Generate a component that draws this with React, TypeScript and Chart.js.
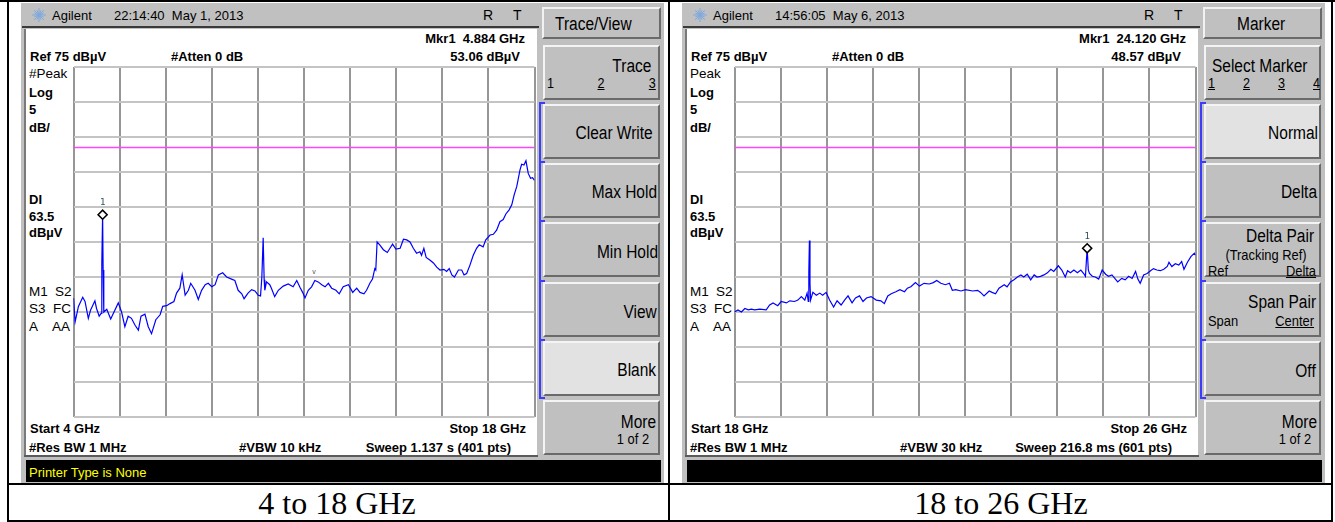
import React, { useEffect, useRef } from "react";
import { Chart, registerables } from "chart.js";
Chart.register(...registerables);

// ---------------- data ----------------
const refLevelDbuV = 75;
const dbPerDiv = 5;
const gridDivisions = 10;
const displayLineDbuV = 63.5;

const leftSpanGHz = [4, 18];
const leftFreqGHz = [
  4.0, 4.05, 4.15, 4.28, 4.35, 4.45, 4.52, 4.65, 4.7, 4.78, 4.84, 4.86, 4.884, 4.9, 4.92,
  5.01, 5.13, 5.36, 5.46, 5.56, 5.66, 5.76, 5.87, 5.97, 6.05, 6.17, 6.27, 6.37, 6.5, 6.63,
  6.71, 6.83, 6.93, 7.05, 7.13, 7.23, 7.3, 7.39, 7.49, 7.56, 7.69, 7.79, 7.89, 8.0, 8.09,
  8.2, 8.3, 8.4, 8.53, 8.65, 8.8, 8.9, 9.0, 9.11, 9.18, 9.3, 9.41, 9.51, 9.61, 9.68, 9.72,
  9.76, 9.79, 9.81, 9.86, 9.96, 10.01, 10.11, 10.22, 10.37, 10.52, 10.67, 10.78, 10.88,
  10.97, 11.03, 11.13, 11.23, 11.33, 11.43, 11.54, 11.64, 11.74, 11.84, 11.97, 12.07, 12.19,
  12.35, 12.48, 12.6, 12.7, 12.82, 12.9, 13.0, 13.08, 13.15, 13.18, 13.22, 13.3, 13.41, 13.53,
  13.61, 13.69, 13.79, 13.92, 14.02, 14.12, 14.22, 14.32, 14.42, 14.52, 14.57, 14.64, 14.71,
  14.83, 14.93, 15.03, 15.13, 15.25, 15.33, 15.41, 15.49, 15.57, 15.69, 15.79, 15.86, 15.94,
  16.04, 16.14, 16.24, 16.32, 16.44, 16.52, 16.65, 16.75, 16.85, 16.95, 17.05, 17.13, 17.23,
  17.31, 17.38, 17.46, 17.56, 17.61, 17.68, 17.74, 17.81, 17.88, 17.94, 18.0,
];
const leftLevelDbuV = [
  42.0, 38.6, 40.8, 42.1, 41.5, 39.1, 40.3, 41.6, 40.5, 39.4, 39.8, 47.0, 53.9, 46.0, 40.0,
  40.4, 39.0, 41.3, 40.0, 37.9, 39.4, 39.1, 38.1, 37.4, 39.4, 39.7, 37.9, 36.9, 38.9, 39.6,
  40.8, 40.9, 41.2, 41.5, 42.7, 43.4, 45.3, 42.4, 43.1, 44.1, 43.1, 41.8, 43.1, 43.9, 44.1,
  43.6, 43.9, 45.3, 45.6, 45.0, 44.7, 44.5, 43.1, 42.6, 41.9, 42.7, 43.2, 43.0, 42.4, 42.3, 45.0,
  50.6, 44.6, 43.1, 44.3, 43.9, 43.4, 42.2, 43.1, 43.7, 44.0, 43.6, 44.5, 43.5,
  42.7, 42.0, 43.1, 43.6, 44.5, 44.3, 43.9, 43.6, 44.1, 43.4, 43.1, 42.6, 43.6,
  43.9, 42.8, 43.4, 42.8, 42.6, 43.1, 44.1, 44.7, 46.2, 46.0, 50.0, 49.6, 48.9, 48.5,
  49.1, 49.7, 49.0, 49.1, 50.4, 50.3, 50.0, 49.1, 48.4, 48.6, 48.1, 49.1, 47.8,
  47.4, 47.0, 46.4, 46.0, 46.1, 45.8, 46.2, 45.3, 45.0, 46.0, 46.0, 45.3, 45.5,
  46.7, 48.1, 49.1, 49.6, 49.3, 50.3, 51.0, 51.1, 51.7, 52.9, 53.2, 54.0, 54.6,
  55.3, 56.7, 57.9, 60.3, 61.1, 61.0, 61.6, 59.8, 59.1, 59.2, 58.8,
];
const leftMarkerFreqGHz = [4.884];
const leftMarkerLevelDbuV = [53.9];

const rightSpanGHz = [18, 26];
const rightFreqGHz = [
  18.0, 18.06, 18.12, 18.18, 18.24, 18.29, 18.35, 18.44, 18.55, 18.61, 18.67, 18.75, 18.81,
  18.9, 18.96, 19.04, 19.1, 19.16, 19.22, 19.26, 19.28, 19.29, 19.3, 19.31, 19.32, 19.36,
  19.42, 19.48, 19.53, 19.59, 19.65, 19.72, 19.78, 19.85, 19.91, 19.97, 20.04, 20.1, 20.17,
  20.23, 20.29, 20.37, 20.46, 20.54, 20.6, 20.66, 20.72, 20.8, 20.87, 20.95, 21.0, 21.06,
  21.14, 21.21, 21.29, 21.38, 21.45, 21.51, 21.58, 21.66, 21.73, 21.78, 21.84, 21.93, 22.01,
  22.13, 22.22, 22.27, 22.33, 22.42, 22.47, 22.53, 22.59, 22.68, 22.73, 22.79, 22.85, 22.91,
  22.97, 23.02, 23.08, 23.14, 23.2, 23.25, 23.31, 23.37, 23.43, 23.49, 23.54, 23.62, 23.68,
  23.74, 23.78, 23.83, 23.89, 23.95, 24.01, 24.06, 24.09, 24.12, 24.14, 24.16, 24.21, 24.26,
  24.32, 24.38, 24.44, 24.49, 24.55, 24.61, 24.65, 24.72, 24.78, 24.84, 24.9, 24.96, 25.0,
  25.04, 25.1, 25.16, 25.22, 25.27, 25.33, 25.39, 25.45, 25.51, 25.54, 25.59, 25.65, 25.71,
  25.76, 25.8, 25.86, 25.92, 25.98, 26.0,
];
const rightLevelDbuV = [
  40.0, 40.3, 40.0, 40.5, 40.3, 40.4, 40.3, 40.4, 40.3, 41.0, 41.3, 40.9, 41.5,
  41.3, 41.6, 41.5, 41.7, 42.2, 41.7, 42.7, 41.5, 45.8, 50.2, 44.1, 41.7, 42.8,
  42.4, 42.7, 42.4, 42.8, 41.7, 40.7, 41.6, 41.0, 41.7, 42.3, 41.3, 42.0, 42.3,
  41.5, 42.0, 42.2, 41.7, 41.6, 41.2, 42.3, 42.6, 42.9, 43.2, 42.9, 43.4, 43.6,
  44.2, 43.7, 44.1, 44.0, 44.2, 44.5, 44.1, 43.9, 44.1, 43.1, 43.2, 43.0, 43.2,
  43.0, 43.1, 42.8, 42.3, 43.0, 42.8, 42.6, 43.4, 43.9, 43.6, 44.3, 44.6, 45.0,
  45.3, 45.0, 45.4, 44.6, 45.3, 45.0, 45.1, 45.3, 45.6, 46.1, 45.8, 46.6, 46.0,
  45.0, 45.9, 45.6, 46.0, 45.6, 46.0, 45.5, 45.1, 49.1, 46.0, 45.5, 45.1, 45.0,
  44.7, 46.0, 45.4, 45.1, 45.3, 44.7, 44.3, 44.8, 44.6, 45.1, 44.8, 45.8, 44.7,
  44.1, 45.3, 45.5, 45.9, 46.2, 46.0, 45.9, 46.1, 46.5, 47.1, 46.5, 46.9, 46.7,
  47.2, 46.1, 47.1, 47.9, 48.4, 48.1,
];
const rightMarkerFreqGHz = [24.12];
const rightMarkerLevelDbuV = [49.1];

// ---------------- layout helpers ----------------
const W = 1335;
const H = 522;
const FONT = '"Liberation Sans", Arial, sans-serif';
const SERIF = '"Liberation Serif", "Times New Roman", serif';
const GREY = "#c0c0c0";
const KEY_TOPS = [45, 104, 163, 222, 282, 341, 400];

type Lbl = {
  t: string;
  x: number;
  y: number;
  s?: number;
  b?: boolean;
  a?: "left" | "right" | "center";
  u?: boolean;
  sx?: number;
  c?: string;
  f?: string;
};

function Txt({ t, x, y, s = 13, b = false, a = "left", u = false, sx = 1, c = "#000", f = FONT }: Lbl) {
  const style: any = {
    position: "absolute",
    top: y - 0.49 * s,
    fontSize: s,
    lineHeight: `${s}px`,
    fontWeight: b ? "bold" : "normal",
    color: c,
    whiteSpace: "pre",
    textDecoration: u ? "underline" : "none",
    fontFamily: f,
  };
  if (a === "left") {
    style.left = x;
    style.transformOrigin = "left center";
    style.transform = `scaleX(${sx})`;
  } else if (a === "right") {
    style.right = W - x;
    style.transformOrigin = "right center";
    style.transform = `scaleX(${sx})`;
  } else {
    style.left = x;
    style.transformOrigin = "center center";
    style.transform = `translateX(-50%) scaleX(${sx})`;
  }
  return <div style={style}>{t}</div>;
}

function Rect({ l, t, w, h, bg, extra }: any) {
  return <div style={{ position: "absolute", left: l, top: t, width: w, height: h, background: bg, ...(extra || {}) }} />;
}

// ---------------- chart ----------------
function SpectrumChart({ left, top, freq, level, span, mFreq, mLevel }: any) {
  const ref = useRef<HTMLCanvasElement | null>(null);
  useEffect(() => {
    const cv = ref.current;
    if (!cv) return;
    const bottomLevel = refLevelDbuV - dbPerDiv * gridDivisions;
    const markerLabel = {
      id: "mkrLabel",
      afterDatasetsDraw(chart: any) {
        const meta = chart.getDatasetMeta(2);
        const ctx = chart.ctx;
        ctx.save();
        ctx.font = '9px "DejaVu Sans Mono", monospace';
        ctx.fillStyle = "#2f4f5f";
        ctx.textAlign = "center";
        ctx.textBaseline = "middle";
        meta.data.forEach((p: any) => ctx.fillText("1", p.x, p.y - 12));
        ctx.restore();
      },
    };
    const chart = new Chart(cv, {
      type: "line",
      data: {
        datasets: [
          {
            data: freq.map((f: number, i: number) => ({ x: f, y: level[i] })),
            borderColor: "#0000ff",
            borderWidth: 1.2,
            pointRadius: 0,
            tension: 0,
            order: 1,
          },
          {
            data: [
              { x: span[0], y: displayLineDbuV },
              { x: span[1], y: displayLineDbuV },
            ],
            borderColor: "#ff44ff",
            borderWidth: 1.5,
            pointRadius: 0,
            order: 2,
          },
          {
            data: mFreq.map((f: number, i: number) => ({ x: f, y: mLevel[i] })),
            showLine: false,
            pointStyle: "rectRot",
            pointRadius: 4.5,
            pointBorderWidth: 1.6,
            pointBorderColor: "#000",
            pointBackgroundColor: "#fff",
            borderColor: "#000",
            backgroundColor: "#fff",
            order: 0,
          },
        ],
      } as any,
      options: {
        animation: false,
        responsive: false,
        events: [],
        layout: { autoPadding: false, padding: { left: 3.5, right: 3.5, top: 3, bottom: 3 } },
        plugins: { legend: { display: false }, tooltip: { enabled: false } },
        scales: {
          x: {
            type: "linear",
            min: span[0],
            max: span[1],
            afterBuildTicks: (axis: any) => {
              axis.ticks = Array.from({ length: gridDivisions + 1 }, (_, i) => ({
                value: span[0] + (i * (span[1] - span[0])) / gridDivisions,
              }));
            },
            ticks: { display: false },
            grid: { color: "#969696", lineWidth: 2, drawTicks: false },
            border: { display: false },
          },
          y: {
            type: "linear",
            min: bottomLevel,
            max: refLevelDbuV,
            afterBuildTicks: (axis: any) => {
              axis.ticks = Array.from({ length: gridDivisions + 1 }, (_, i) => ({
                value: bottomLevel + i * dbPerDiv,
              }));
            },
            ticks: { display: false },
            grid: { color: "#c4c4c4", lineWidth: 2, drawTicks: false },
            border: { display: false },
          },
        },
      } as any,
      plugins: [markerLabel],
    });
    return () => chart.destroy();
  }, []);
  return (
    <canvas
      ref={ref}
      width={468}
      height={356}
      style={{ position: "absolute", left, top, width: 468, height: 356 }}
    />
  );
}

// ---------------- screen ----------------
function Starburst({ x, y }: any) {
  const spokes = [0, 22.5, 45, 67.5, 90, 112.5, 135, 157.5];
  return (
    <svg style={{ position: "absolute", left: x, top: y }} width={16} height={16}>
      {spokes.map((d) => {
        const r = (d * Math.PI) / 180;
        const L = d % 45 === 0 ? 7 : 5;
        return (
          <line
            key={d}
            x1={8 - Math.cos(r) * L}
            y1={8 - Math.sin(r) * L}
            x2={8 + Math.cos(r) * L}
            y2={8 + Math.sin(r) * L}
            stroke="#7fa9de"
            strokeWidth={1}
          />
        );
      })}
    </svg>
  );
}

function Screen({ dx, time, display, keys, selected, printer, chart }: any) {
  const keyLbl = (k: Lbl) => ({ s: 18, sx: 0.86, ...k, x: k.x + dx });
  return (
    <>
      <Rect l={dx + 21} t={3} w={643} h={480} bg={GREY} />
      {/* header */}
      <Starburst x={dx + 31} y={7} />
      <Txt t="Agilent" x={dx + 52} y={15} s={13} />
      <Txt t={time} x={dx + 114} y={15} s={13} />
      <Txt t="R" x={dx + 483} y={15} s={14} />
      <Txt t="T" x={dx + 513} y={15} s={14} />
      <Rect l={dx + 22} t={26} w={517} h={2} bg="#3a3a3a" />
      {/* display */}
      <Rect l={dx + 24} t={29} w={2} h={427} bg="#7a7a7a" />
      <Rect l={dx + 26} t={29} w={511} h={426} bg="#ffffff" />
      <Rect l={dx + 24} t={455} w={514} h={2} bg="#5a5a5a" />
      {display.map((l: Lbl, i: number) => (
        <Txt key={i} {...l} x={l.x + dx} />
      ))}
      <SpectrumChart left={dx + 70} top={64} {...chart} />
      {/* status bar */}
      <Rect l={dx + 26} t={460} w={635} h={22} bg="#000" />
      {printer ? <Txt t={printer} x={dx + 29} y={472} s={13} c="#ffff00" /> : null}
      {/* soft keys */}
      <Rect
        l={dx + 542}
        t={7}
        w={119}
        h={32}
        bg={GREY}
        extra={{
          boxSizing: "border-box",
          borderTop: "2px solid #f2f2f2",
          borderLeft: "2px solid #f2f2f2",
          borderRight: "2px solid #6a6a6a",
          borderBottom: "2px solid #6a6a6a",
        }}
      />
      {KEY_TOPS.map((t, i) => (
        <Rect
          key={i}
          l={dx + 543}
          t={t}
          w={117}
          h={55}
          bg={i === selected ? "#e2e2e2" : GREY}
          extra={{
            boxSizing: "border-box",
            borderTop: "2px solid #f4f4f4",
            borderLeft: "2px solid #f4f4f4",
            borderRight: "2px solid #6a6a6a",
            borderBottom: "2px solid #6a6a6a",
          }}
        />
      ))}
      <Rect l={dx + 539} t={102} w={2} h={297} bg="#3c3cff" />
      {[102, 161, 220, 280, 339, 397].map((t) => (
        <Rect key={t} l={dx + 539} t={t} w={6} h={2} bg="#3c3cff" />
      ))}
      {keys.map((k: Lbl, i: number) => (
        <Txt key={"k" + i} {...keyLbl(k)} />
      ))}
    </>
  );
}

const commonDisplay = (
  mkrFreq: string,
  mkrLevel: string,
  det: string,
  start: string,
  stop: string,
  vbw: string,
  sweep: string
): Lbl[] => [
  { t: mkrFreq, x: 525, y: 38, b: true, a: "right" },
  { t: "Ref 75 dBµV", x: 30, y: 56, b: true },
  { t: "#Atten 0 dB", x: 171, y: 56, b: true },
  { t: mkrLevel, x: 520, y: 56, b: true, a: "right" },
  { t: det, x: 29, y: 74, s: 13.5 },
  { t: "Log", x: 29, y: 92, b: true },
  { t: "5", x: 29, y: 109, b: true },
  { t: "dB/", x: 29, y: 127, b: true },
  { t: "DI", x: 29, y: 199, b: true },
  { t: "63.5", x: 29, y: 216, b: true },
  { t: "dBµV", x: 29, y: 232, b: true },
  { t: "M1", x: 29, y: 292, s: 13.5 },
  { t: "S2", x: 55, y: 292, s: 13.5 },
  { t: "S3", x: 29, y: 309, s: 13.5 },
  { t: "FC", x: 53, y: 309, s: 13.5 },
  { t: "A", x: 29, y: 327, s: 13.5 },
  { t: "AA", x: 52, y: 327, s: 13.5 },
  { t: start, x: 30, y: 428, b: true },
  { t: stop, x: 526, y: 428, b: true, a: "right" },
  { t: "#Res BW 1 MHz", x: 29, y: 447, b: true },
  { t: vbw, x: 239, y: 447, b: true },
  { t: sweep, x: 511, y: 447, b: true, a: "right" },
];

const leftDisplay: Lbl[] = [
  ...commonDisplay("Mkr1  4.884 GHz", "53.06 dBµV", "#Peak", "Start 4 GHz", "Stop 18 GHz", "#VBW 10 kHz", "Sweep 1.137 s (401 pts)"),
  { t: "v", x: 314, y: 271, s: 7, a: "center", c: "#555" },
];
const rightDisplay: Lbl[] = commonDisplay(
  "Mkr1  24.120 GHz",
  "48.57 dBµV",
  "Peak",
  "Start 18 GHz",
  "Stop 26 GHz",
  "#VBW 30 kHz",
  "Sweep 216.8 ms (601 pts)"
);

const leftKeys: Lbl[] = [
  { t: "Trace/View", x: 555, y: 23.5 },
  { t: "Trace", x: 651, y: 66, a: "right" },
  { t: "1", x: 547, y: 83, s: 14, sx: 0.9 },
  { t: "2", x: 600.5, y: 83, s: 14, sx: 0.9, a: "center", u: true },
  { t: "3", x: 656, y: 83, s: 14, sx: 0.9, a: "right", u: true },
  { t: "Clear Write", x: 653, y: 133, a: "right" },
  { t: "Max Hold", x: 657, y: 192, a: "right" },
  { t: "Min Hold", x: 658, y: 252, a: "right" },
  { t: "View", x: 657, y: 311.5, a: "right" },
  { t: "Blank", x: 656, y: 370, a: "right" },
  { t: "More", x: 656, y: 421.5, a: "right" },
  { t: "1 of 2", x: 633, y: 438, s: 15, a: "center" },
];

const rightKeys: Lbl[] = [
  { t: "Marker", x: 576, y: 23.5 },
  { t: "Select Marker", x: 551, y: 66 },
  { t: "1", x: 547, y: 83, s: 14, sx: 0.9, u: true },
  { t: "2", x: 582, y: 83, s: 14, sx: 0.9, u: true },
  { t: "3", x: 617, y: 83, s: 14, sx: 0.9, u: true },
  { t: "4", x: 652, y: 83, s: 14, sx: 0.9, u: true },
  { t: "Normal", x: 657, y: 133, a: "right" },
  { t: "Delta", x: 656, y: 192, a: "right" },
  { t: "Delta Pair", x: 653, y: 235.5, a: "right" },
  { t: "(Tracking Ref)", x: 604.5, y: 254, s: 15, a: "center" },
  { t: "Ref", x: 547, y: 270, s: 15 },
  { t: "Delta", x: 655.5, y: 270, s: 15, a: "right", u: true },
  { t: "Span Pair", x: 655, y: 302, a: "right" },
  { t: "Span", x: 547, y: 320.5, s: 15 },
  { t: "Center", x: 653, y: 320.5, s: 15, a: "right", u: true },
  { t: "Off", x: 655, y: 370.5, a: "right" },
  { t: "More", x: 656, y: 421.5, a: "right" },
  { t: "1 of 2", x: 634, y: 438, s: 15, a: "center" },
];

export default function App() {
  return (
    <div
      style={{
        position: "fixed",
        left: 0,
        top: 0,
        width: W,
        height: H,
        background: "#fff",
        overflow: "hidden",
        fontFamily: FONT,
      }}
    >
      <Screen
        dx={0}
        time={"22:14:40  May 1, 2013"}
        display={leftDisplay}
        keys={leftKeys}
        selected={5}
        printer="Printer Type is None"
        chart={{
          freq: leftFreqGHz,
          level: leftLevelDbuV,
          span: leftSpanGHz,
          mFreq: leftMarkerFreqGHz,
          mLevel: leftMarkerLevelDbuV,
        }}
      />
      <Screen
        dx={661}
        time={"14:56:05  May 6, 2013"}
        display={rightDisplay}
        keys={rightKeys}
        selected={1}
        printer=""
        chart={{
          freq: rightFreqGHz,
          level: rightLevelDbuV,
          span: rightSpanGHz,
          mFreq: rightMarkerFreqGHz,
          mLevel: rightMarkerLevelDbuV,
        }}
      />
      {/* table frame */}
      <Rect l={0} t={0} w={W} h={2} bg="#000" />
      <Rect l={7} t={0} w={2} h={H} bg="#000" />
      <Rect l={1331} t={0} w={2} h={H} bg="#000" />
      <Rect l={668} t={0} w={2} h={H} bg="#000" />
      <Rect l={7} t={483} w={1326} h={2} bg="#000" />
      <Rect l={7} t={520} w={1326} h={2} bg="#000" />
      <Txt t="4 to 18 GHz" x={337} y={503} s={32} a="center" f={SERIF} />
      <Txt t="18 to 26 GHz" x={1001} y={503} s={32} a="center" f={SERIF} />
    </div>
  );
}
